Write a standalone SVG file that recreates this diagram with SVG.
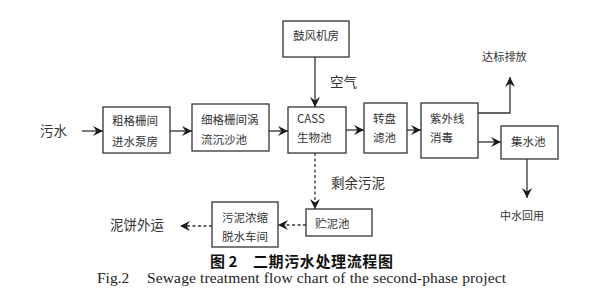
<svg xmlns="http://www.w3.org/2000/svg" width="604" height="308" viewBox="0 0 604 308">
<defs>
<marker id="ah" markerUnits="userSpaceOnUse" markerWidth="11" markerHeight="10" refX="10" refY="5" orient="auto" viewBox="0 0 11 10">
<path d="M0,0 L10,5 L0,10 L3.5,5 z" fill="#1a1a1a"/>
</marker>
<style>
.box{fill:#fff;stroke:#333;stroke-width:1.3}
.t{font-family:"Noto Sans CJK SC","Noto Sans",sans-serif;font-size:11.5px;fill:#333}
.lb{font-family:"Noto Sans CJK SC","Noto Sans",sans-serif;font-size:13.5px;fill:#333}
.ln{fill:none;stroke:#333;stroke-width:1.3}
.dash{stroke-dasharray:3,2.5}
.cap{font-family:"Noto Sans CJK SC",sans-serif;font-size:15px;font-weight:bold;fill:#111}
.en{font-family:"Liberation Serif",serif;font-size:15.5px;fill:#222}
</style>
</defs>
<rect width="604" height="308" fill="#fff"/>
<g id="connectors">
<path class="ln" d="M82,131 H103" marker-end="url(#ah)"/>
<path class="ln" d="M170,131 H192" marker-end="url(#ah)"/>
<path class="ln" d="M269,131 H288" marker-end="url(#ah)"/>
<path class="ln" d="M346,130 H364" marker-end="url(#ah)"/>
<path class="ln" d="M407,130 H421" marker-end="url(#ah)"/>
<path class="ln" d="M478,142 H501" marker-end="url(#ah)"/>
<path class="ln" d="M478,113 H510 V77" marker-end="url(#ah)"/>
<path class="ln" d="M315,57 V107" marker-end="url(#ah)"/>
<path class="ln" d="M527,159 V198" marker-end="url(#ah)"/>
<path class="ln dash" d="M315,153 V209" marker-end="url(#ah)"/>
<path class="ln dash" d="M306,225 H278" marker-end="url(#ah)"/>
<path class="ln dash" d="M212,226 H180" marker-end="url(#ah)"/>
</g>
<g id="labels">
<text class="lb" x="40" y="136">污水</text>
<text class="lb" x="330" y="87">空气</text>
<text class="lb" x="331" y="188">剩余污泥</text>
<text class="lb" x="110" y="230">泥饼外运</text>
<text class="t" x="482" y="61" style="font-size:11.2px">达标排放</text>
<text class="t" x="500" y="220" style="font-size:11px">中水回用</text>
</g>
<g id="n1"><rect class="box" x="103" y="107" width="67" height="46"/><text class="t" x="112" y="125">粗格栅间</text><text class="t" x="112" y="146">进水泵房</text></g>
<g id="n2"><rect class="box" x="192" y="104" width="77" height="47"/><text class="t" x="201" y="123.5">细格栅间涡</text><text class="t" x="201" y="144">流沉沙池</text></g>
<g id="n3"><rect class="box" x="288" y="107" width="58" height="46"/><text class="t" x="297" y="123">CASS</text><text class="t" x="297" y="141.5">生物池</text></g>
<g id="n4"><rect class="box" x="283" y="21" width="66" height="36"/><text class="t" x="293" y="39.5">鼓风机房</text></g>
<g id="n5"><rect class="box" x="364" y="103" width="43" height="50"/><text class="t" x="373" y="122.5">转盘</text><text class="t" x="373" y="141.5">滤池</text></g>
<g id="n6"><rect class="box" x="421" y="103" width="57" height="55"/><text class="t" x="430" y="122.5">紫外线</text><text class="t" x="430" y="141.5">消毒</text></g>
<g id="n7"><rect class="box" x="501" y="126" width="57" height="33"/><text class="t" x="511" y="146">集水池</text></g>
<g id="n8"><rect class="box" x="306" y="209" width="66" height="27"/><text class="t" x="315" y="228">贮泥池</text></g>
<g id="n9"><rect class="box" x="212" y="202" width="66" height="45"/><text class="t" x="222" y="222">污泥浓缩</text><text class="t" x="222" y="240.5">脱水车间</text></g>
<g id="caption">
<text class="cap" x="210" y="267">图 2</text>
<text class="cap" x="253" y="267" textLength="140">二期污水处理流程图</text>
<text class="en" x="97" y="283">Fig.2</text>
<text class="en" x="147" y="283" textLength="359">Sewage treatment flow chart of the second-phase project</text>
</g>
</svg>
